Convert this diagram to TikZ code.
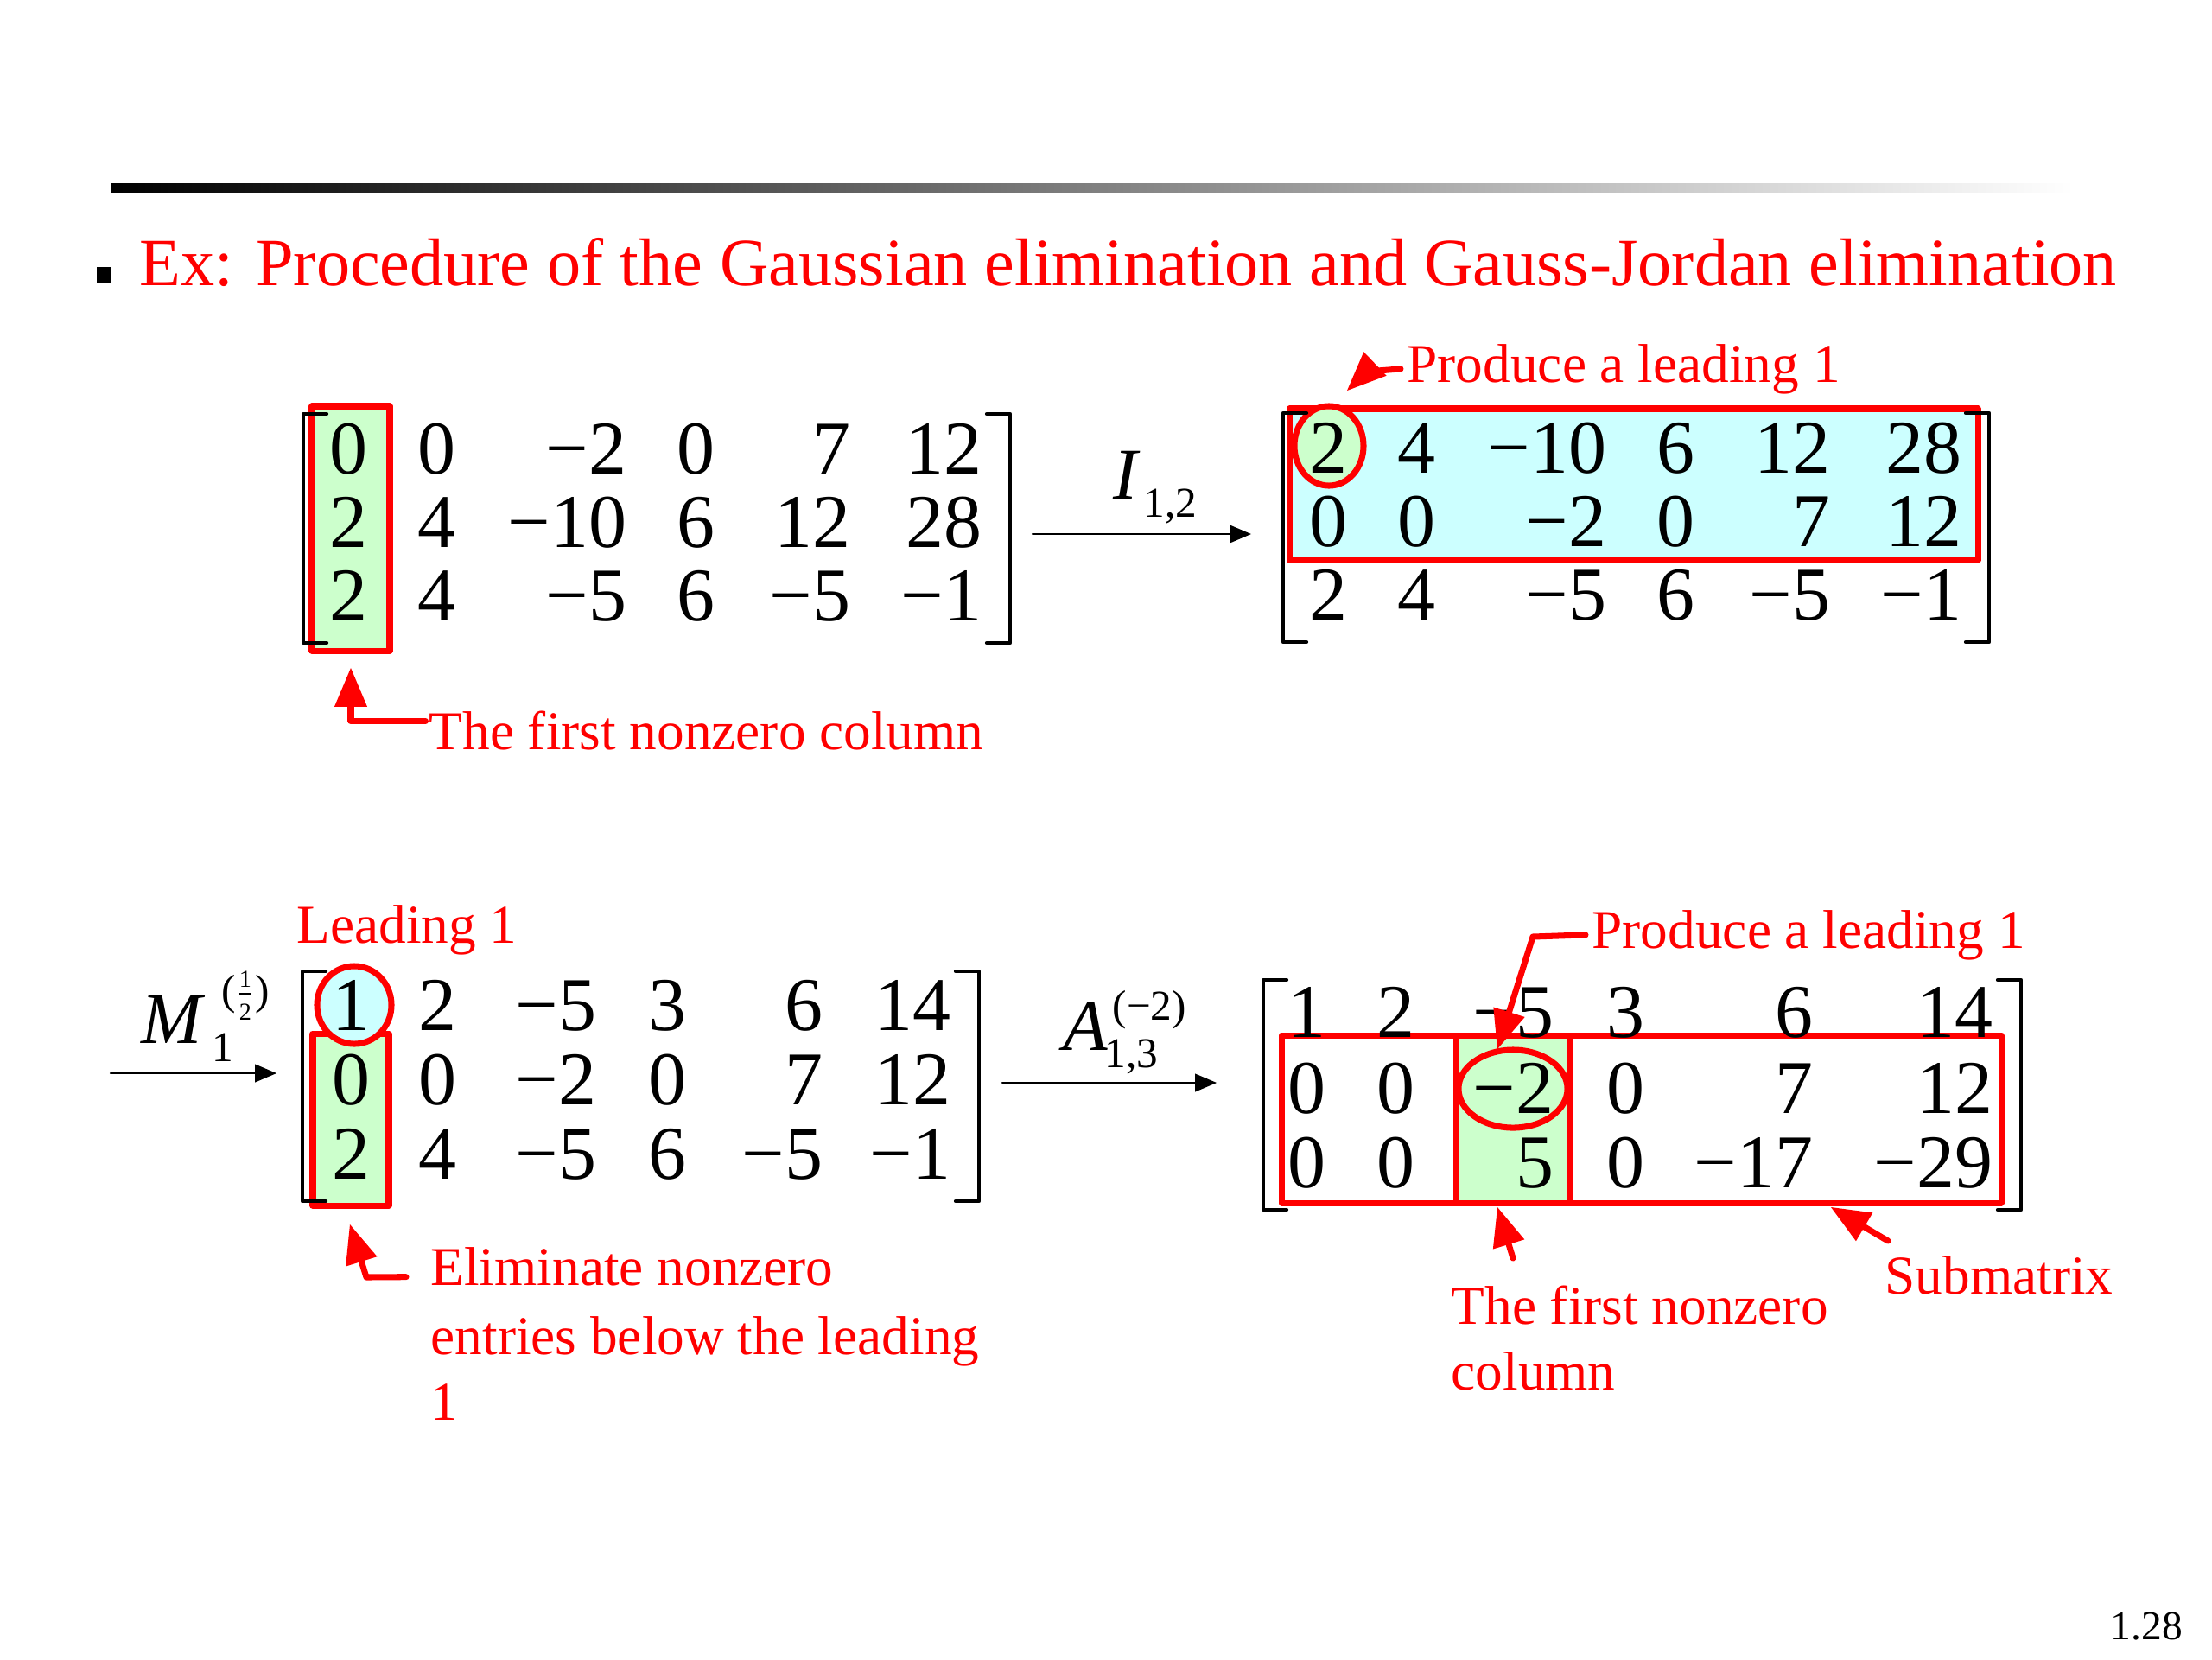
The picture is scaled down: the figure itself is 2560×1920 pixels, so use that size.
\documentclass[tikz,border=0pt]{standalone}
\usepackage{fontspec}
\setmainfont{Liberation Serif}
\usetikzlibrary{arrows}
\definecolor{ffqqqq}{rgb}{1,0,0}
\definecolor{ccffcc}{rgb}{0.8,1,0.8}
\definecolor{ccffff}{rgb}{0.8,1,1}

\begin{document}
\begin{tikzpicture}[line cap=round,line join=round,>=triangle 45,x=0.01cm,y=-0.01cm,
	entry/.style={anchor=base east,inner sep=0pt,font=\fontsize{25}{25}\selectfont},
	note/.style={anchor=base west,inner sep=0pt,text=ffqqqq,font=\fontsize{18}{18}\selectfont},
	callout/.style={->,color=ffqqqq,line width=2pt},
	hilite/.style={draw=ffqqqq,line width=2pt},
	bracket/.style={line width=1.2pt},
	oparrow/.style={->,line width=0.6pt},
	oplabel/.style={anchor=base west,inner sep=0pt,font=\fontsize{24}{24}\selectfont\itshape},
	opindex/.style={anchor=base west,inner sep=0pt,font=\fontsize{14}{14}\selectfont}]
	\useasboundingbox (0,0) rectangle (2560,1920);
	\shade[left color=black,right color=white] (128,212) rectangle (2400,222);
	\fill (112,309) rectangle (128,327);
	\node[anchor=base west,inner sep=0pt,text=ffqqqq,font=\fontsize{22.25}{22.25}\selectfont] (title) at (161,330) {Ex: Procedure of the Gaussian elimination and Gauss-Jordan elimination};
	% first matrix
	\filldraw[hilite,fill=ccffcc] (361,470) rectangle (451,753);
	\draw[bracket] (378,479) -- (351,479) -- (351,744) -- (378,744);
	\draw[bracket] (1142,479) -- (1169,479) -- (1169,744) -- (1142,744);
	\foreach \x/\v [count=\j] in {426/0,528/0,726/−2,828/0,985/7,1137/12} \node[entry] (tl-1-\j) at (\x,548) {\v};
	\foreach \x/\v [count=\j] in {426/2,528/4,726/−10,828/6,985/12,1137/28} \node[entry] (tl-2-\j) at (\x,633) {\v};
	\foreach \x/\v [count=\j] in {426/2,528/4,726/−5,828/6,985/−5,1137/−1} \node[entry] (tl-3-\j) at (\x,718) {\v};
	\node[note] (firstA) at (496,867) {The first nonzero column};
	\coordinate (firstAtip) at (406,773);
	\draw[callout] ([xshift=-1pt,yshift=3pt]firstA.west) -| (firstAtip);
	% I_{1,2}
	\coordinate (Ia) at (1195,618);
	\coordinate (Ib) at (1448,618);
	\draw[oparrow] (Ia) -- (Ib);
	\node[oplabel] (Ilbl) at (1288,577) {I};
	\node[opindex] (Isub) at (1323,598) {1,2};
	% second matrix
	\filldraw[hilite,fill=ccffff] (1492,473) rectangle (2289,648);
	\filldraw[hilite,fill=ccffcc] (1538,516) ellipse [x radius=0.40cm,y radius=0.46cm];
	\draw[bracket] (1512,478) -- (1485,478) -- (1485,743) -- (1512,743);
	\draw[bracket] (2275,478) -- (2302,478) -- (2302,743) -- (2275,743);
	\foreach \x/\v [count=\j] in {1560/2,1662/4,1860/−10,1962/6,2119/12,2271/28} \node[entry] (tr-1-\j) at (\x,547) {\v};
	\foreach \x/\v [count=\j] in {1560/0,1662/0,1860/−2,1962/0,2119/7,2271/12} \node[entry] (tr-2-\j) at (\x,632) {\v};
	\foreach \x/\v [count=\j] in {1560/2,1662/4,1860/−5,1962/6,2119/−5,2271/−1} \node[entry] (tr-3-\j) at (\x,717) {\v};
	\node[note] (prodA) at (1628,442) {Produce a leading 1};
	\coordinate (prodAbend) at (1582,430);
	\coordinate (prodAtip) at (1559,452);
	\draw[callout] ([xshift=-2pt]prodA.west) -- (prodAbend) -- (prodAtip);
	% M_1^{(1/2)}
	\coordinate (Ma) at (128,1242);
	\coordinate (Mb) at (320,1242);
	\draw[oparrow] (Ma) -- (Mb);
	\node[oplabel] (Mlbl) at (163,1207) {M};
	\node[opindex] (Msub) at (245,1228) {1};
	\node[inner sep=0pt,font=\fontsize{14}{14}\selectfont] (Msup) at (284,1152) {($\frac{\mbox{\fontsize{8}{8}\selectfont 1}}{\mbox{\fontsize{8}{8}\selectfont 2}}$)};
	% third matrix
	\filldraw[hilite,fill=ccffcc] (362,1196) rectangle (450,1395);
	\filldraw[hilite,fill=ccffff] (410,1163) ellipse [x radius=0.43cm,y radius=0.45cm];
	\draw[bracket] (377,1124) -- (350,1124) -- (350,1390) -- (377,1390);
	\draw[bracket] (1106,1124) -- (1133,1124) -- (1133,1390) -- (1106,1390);
	\foreach \x/\v [count=\j] in {429/1,529/2,691/−5,795/3,953/6,1101/14} \node[entry] (bl-1-\j) at (\x,1192) {\v};
	\foreach \x/\v [count=\j] in {429/0,529/0,691/−2,795/0,953/7,1101/12} \node[entry] (bl-2-\j) at (\x,1278) {\v};
	\foreach \x/\v [count=\j] in {429/2,529/4,691/−5,795/6,953/−5,1101/−1} \node[entry] (bl-3-\j) at (\x,1364) {\v};
	\node[note] (lead) at (343,1091) {Leading 1};
	\node[note] (elim1) at (498,1487) {Eliminate nonzero};
	\node[note] (elim2) at (498,1567) {entries below the leading};
	\node[note] (elim3) at (498,1643) {1};
	\coordinate (elimbend) at (424,1478);
	\coordinate (elimtip) at (405,1417);
	\draw[callout] ([xshift=-0.28cm,yshift=-3.5pt]elim1.west) -- (elimbend) -- (elimtip);
	% A_{1,3}^{(-2)}
	\coordinate (Aa) at (1160,1253);
	\coordinate (Ab) at (1408,1253);
	\draw[oparrow] (Aa) -- (Ab);
	\node[oplabel] (Albl) at (1230,1215) {A};
	\node[opindex] (Asub) at (1278,1235) {1,3};
	\node[opindex] (Asup) at (1287,1180) {(−2)};
	% fourth matrix
	\draw[hilite] (1483,1198) rectangle (2316,1392);
	\filldraw[hilite,fill=ccffcc] (1685,1198) rectangle (1817,1392);
	\draw[hilite] (1751,1260) ellipse [x radius=0.63cm,y radius=0.45cm];
	\draw[bracket] (1489,1134) -- (1462,1134) -- (1462,1400) -- (1489,1400);
	\draw[bracket] (2312,1134) -- (2339,1134) -- (2339,1400) -- (2312,1400);
	\foreach \x/\v [count=\j] in {1535/1,1638/2,1799/−5,1904/3,2099/6,2307/14} \node[entry] (br-1-\j) at (\x,1200) {\v};
	\foreach \x/\v [count=\j] in {1535/0,1638/0,1799/−2,1904/0,2099/7,2307/12} \node[entry] (br-2-\j) at (\x,1288) {\v};
	\foreach \x/\v [count=\j] in {1535/0,1638/0,1799/5,1904/0,2099/−17,2307/−29} \node[entry] (br-3-\j) at (\x,1374) {\v};
	\node[note] (prodB) at (1842,1097) {Produce a leading 1};
	\coordinate (prodBbend) at (1774,1084);
	\coordinate (prodBtip) at (1733,1214);
	\draw[callout] ([xshift=-2pt]prodB.west) -- (prodBbend) -- (prodBtip);
	\node[note] (firstB1) at (1679,1532) {The first nonzero};
	\node[note] (firstB2) at (1679,1608) {column};
	\coordinate (firstBtail) at (1751,1456);
	\coordinate (firstBtip) at (1733,1397);
	\draw[callout] (firstBtail) -- (firstBtip);
	\node[note] (subm) at (2181,1497) {Submatrix};
	\coordinate (submtail) at (2185,1436);
	\coordinate (submtip) at (2119,1397);
	\draw[callout] (submtail) -- (submtip);
	\node[anchor=base west,inner sep=0pt,font=\fontsize{13.5}{13.5}\selectfont] (pagenum) at (2442,1897) {1.28};
\end{tikzpicture}
\end{document}
